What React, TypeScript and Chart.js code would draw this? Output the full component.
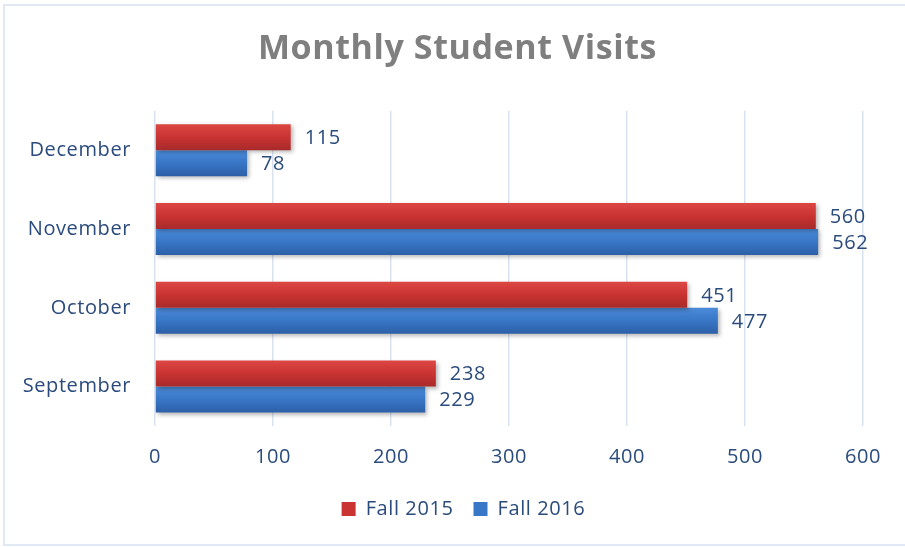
import React, { useEffect, useRef } from "react";
import { Chart, registerables } from "chart.js";

Chart.register(...registerables);

const categories = ["December", "November", "October", "September"];
const fall2015 = [115, 560, 451, 238];
const fall2016 = [78, 562, 477, 229];
const xTicks = [0, 100, 200, 300, 400, 500, 600];

const TEXT = "#2a4b7c";
const FONT = "'Open Sans', Lato, sans-serif";

const redStops = ["#dc4744", "#c93331", "#a82a2a"];
const blueStops = ["#4b8bd8", "#3876c6", "#2d5fa6"];

function grad(ctx: CanvasRenderingContext2D, y0: number, y1: number, stops: string[]) {
  const g = ctx.createLinearGradient(0, y0, 0, y1);
  g.addColorStop(0, stops[0]);
  g.addColorStop(0.5, stops[1]);
  g.addColorStop(1, stops[2]);
  return g;
}

const spacingPlugin = {
  id: "letterSpacing",
  beforeUpdate(chart: any) {
    chart.ctx.letterSpacing = "0.6px";
  },
  beforeDraw(chart: any) {
    chart.ctx.letterSpacing = "0.6px";
  },
};

const shiftPlugin = {
  id: "shiftBlocks",
  afterLayout(chart: any) {
    const t = chart.titleBlock;
    if (t) {
      t.left += 26;
      t.right += 26;
    }
    const l = chart.legend;
    if (l) {
      l.left += 32;
      l.right += 32;
    }
  },
};

const gradientPlugin = {
  id: "barGradient",
  beforeDatasetsDraw(chart: any) {
    const ctx = chart.ctx;
    chart.data.datasets.forEach((ds: any, i: number) => {
      const meta = chart.getDatasetMeta(i);
      const stops = i === 0 ? redStops : blueStops;
      meta.data.forEach((el: any) => {
        const h = el.height;
        const y0 = el.y - h / 2;
        el.options = Object.assign({}, el.options, {
          backgroundColor: grad(ctx, y0, y0 + h, stops),
        });
      });
    });
  },
  beforeDatasetDraw(chart: any) {
    const ctx = chart.ctx;
    ctx.save();
    ctx.shadowColor = "rgba(0,0,0,0.28)";
    ctx.shadowBlur = 4;
    ctx.shadowOffsetX = 2;
    ctx.shadowOffsetY = 2;
  },
  afterDatasetDraw(chart: any) {
    chart.ctx.restore();
  },
};

const labelPlugin = {
  id: "valueLabels",
  afterDatasetsDraw(chart: any) {
    const ctx = chart.ctx;
    ctx.save();
    ctx.font = `20px ${FONT}`;
    ctx.fillStyle = TEXT;
    ctx.textAlign = "left";
    ctx.textBaseline = "middle";
    chart.data.datasets.forEach((ds: any, i: number) => {
      const meta = chart.getDatasetMeta(i);
      meta.data.forEach((el: any, j: number) => {
        ctx.fillText(String(ds.data[j]), el.x + 14, el.y + 1);
      });
    });
    ctx.restore();
  },
};

const borderPlugin = {
  id: "outerBorder",
  afterDraw(chart: any) {
    const ctx = chart.ctx;
    ctx.save();
    ctx.strokeStyle = "#d6e2f0";
    ctx.lineWidth = 1.5;
    ctx.strokeRect(4, 5, 910, 540);
    ctx.restore();
  },
};

export default function App() {
  const ref = useRef<HTMLCanvasElement | null>(null);
  useEffect(() => {
    if (!ref.current) return;
    const chart = new Chart(ref.current, {
      type: "bar",
      data: {
        labels: categories,
        datasets: [
          {
            label: "Fall 2015",
            data: fall2015,
            backgroundColor: () => redStops[1],
            categoryPercentage: 0.66,
            barPercentage: 1,
          },
          {
            label: "Fall 2016",
            data: fall2016,
            backgroundColor: () => blueStops[1],
            categoryPercentage: 0.66,
            barPercentage: 1,
          },
        ],
      },
      options: {
        indexAxis: "y",
        animation: false,
        responsive: false,
        maintainAspectRatio: false,
        layout: { padding: { top: 10, right: 42, bottom: 18, left: 0 } },
        plugins: {
          title: {
            display: true,
            text: "Monthly Student Visits",
            color: "#7f7f7f",
            font: { family: FONT, size: 34, weight: "bold" },
            padding: { top: 19, bottom: 41 },
          },
          legend: {
            position: "bottom",
            labels: {
              color: TEXT,
              font: { family: FONT, size: 20 },
              boxWidth: 14,
              boxHeight: 14,
              padding: 20,
              generateLabels: (chart: any) =>
                chart.data.datasets.map((ds: any, i: number) => ({
                  text: ds.label,
                  fillStyle: i === 0 ? redStops[1] : blueStops[1],
                  strokeStyle: i === 0 ? redStops[2] : blueStops[2],
                  lineWidth: 0,
                  fontColor: TEXT,
                  datasetIndex: i,
                })),
            },
          },
          tooltip: { enabled: false },
        },
        scales: {
          x: {
            min: 0,
            max: 600,
            afterBuildTicks: (axis: any) => {
              axis.ticks = xTicks.map((v) => ({ value: v }));
            },
            afterFit: (axis: any) => {
              axis.height = 53;
            },
            grid: { color: "#d9e3f0", lineWidth: 1.5, drawTicks: false },
            border: { display: false },
            ticks: {
              color: TEXT,
              font: { family: FONT, size: 20 },
              padding: 19,
            },
          },
          y: {
            afterFit: (axis: any) => {
              axis.width = 155;
            },
            grid: { display: false, drawTicks: false },
            border: { display: false },
            ticks: {
              color: TEXT,
              font: { family: FONT, size: 20 },
              padding: 24,
            },
          },
        },
      },
      plugins: [spacingPlugin, shiftPlugin, gradientPlugin, labelPlugin, borderPlugin],
    } as any);
    return () => chart.destroy();
  }, []);
  return (
    <div style={{ position: "absolute", left: 0, top: 0, width: 905, height: 547, background: "#fff" }}>
      <canvas ref={ref} width={905} height={547} style={{ display: "block" }} />
    </div>
  );
}
